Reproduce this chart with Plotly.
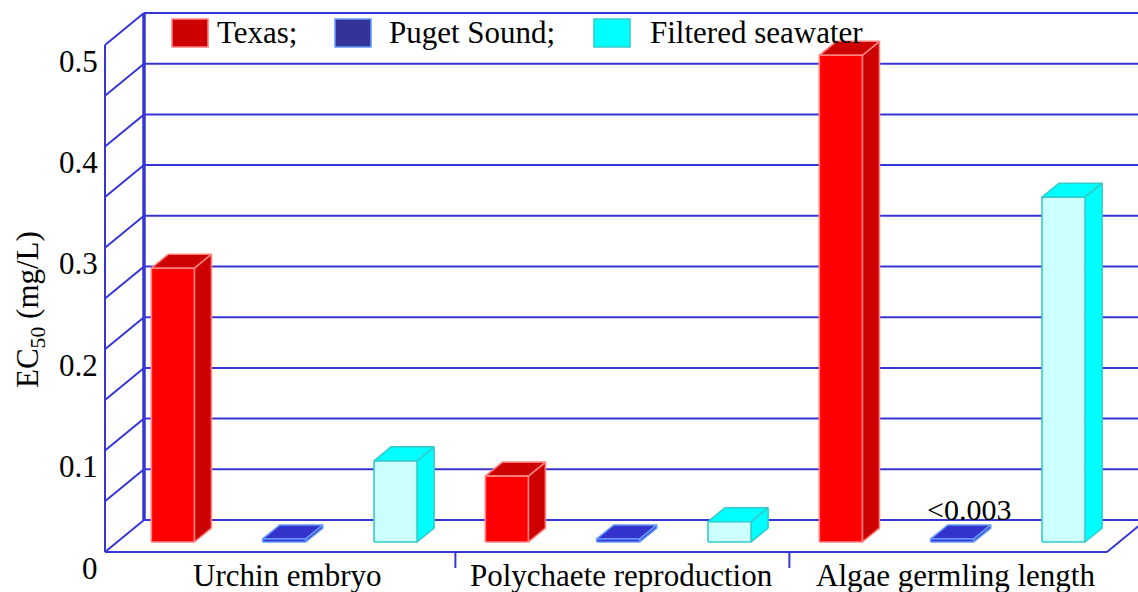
import plotly.graph_objects as go

# ---- data ----
categories = ["Urchin embryo", "Polychaete reproduction", "Algae germling length"]
series_names = ["Texas;", "Puget Sound;", "Filtered seawater"]
texas = [0.27, 0.065, 0.48]
puget_sound = [0.003, 0.003, 0.003]
filtered_seawater = [0.08, 0.02, 0.34]
y_tick_values = [0, 0.1, 0.2, 0.3, 0.4, 0.5]
y_tick_labels = ["0", "0.1", "0.2", "0.3", "0.4", "0.5"]
grid_step = 0.05
y_max = 0.5
value_note = "&lt;0.003"   # label on the Algae / Puget Sound bar

series_values = [texas, puget_sound, filtered_seawater]

# ---- pseudo-3D geometry ----
W, H = 1138, 592
PX_PER_CAT = 334.0       # pixels per category on the back wall
PX_PER_UNIT = 1014.0     # pixels per 1.0 mg/L
WALL_LEFT_PX, WALL_BASE_PX = 144.0, 520.0
DEPTH_DX, DEPTH_DY = -39.0, 32.0   # pixel offset from back wall to front edge
BAR_W = 43.0 / PX_PER_CAT
BAR_FRONT, BAR_BACK = 0.6875, 0.25  # depth of bar faces (0 = back, 1 = front)
N = len(categories)

GRID = "#3636D6"
FONT = "Liberation Serif, Times New Roman, serif"

STYLES = [
    dict(front="#FF0000", side="#CC0000", top="#CC0000", edge="#FF8080", key="#CC0000"),
    dict(front="#3333CC", side="#2B2BB0", top="#3333CC", edge="#6699FF", key="#333399"),
    dict(front="#CCFFFF", side="#00FFFF", top="#00FFFF", edge="#33CCCC", key="#00FFFF"),
]


def proj(x, v, d):
    """Map (category-x, value) on the back wall to depth d."""
    return x + DEPTH_DX * d / PX_PER_CAT, v - DEPTH_DY * d / PX_PER_UNIT


fig = go.Figure()


def add_lines(segments, width, color=GRID):
    xs, ys = [], []
    for (x0, y0), (x1, y1) in segments:
        xs += [x0, x1, None]
        ys += [y0, y1, None]
    fig.add_trace(go.Scatter(x=xs, y=ys, mode="lines", hoverinfo="skip",
                             line=dict(color=color, width=width), showlegend=False))


# back-wall gridlines and side-wall diagonals
n_grid = int(round(y_max / grid_step))
grid_vals = [k * grid_step for k in range(n_grid + 1)]
add_lines([((0, v), (N, v)) for v in grid_vals], 2)
add_lines([(proj(0, v, 1), (0, v)) for v in grid_vals], 2)
# back wall left edge, front vertical axis, floor edges
add_lines([((0, 0), (0, y_max))], 3.5)
add_lines([(proj(0, 0, 1), proj(0, y_max, 1)),
           (proj(0, 0, 1), proj(N, 0, 1)),
           (proj(N, 0, 1), (N, 0))], 2)
# category separators below the floor
tick_len = 16.0 / PX_PER_UNIT
seps = []
for i in range(1, N):
    tx, _ = proj(i, 0, 0.58)
    _, fy = proj(0, 0, 1)
    seps.append(((tx, fy), (tx, fy - tick_len)))
add_lines(seps, 2)


def poly(pts, fill, edge):
    xs = [p[0] for p in pts] + [pts[0][0]]
    ys = [p[1] for p in pts] + [pts[0][1]]
    fig.add_trace(go.Scatter(x=xs, y=ys, mode="lines", fill="toself", fillcolor=fill,
                             line=dict(color=edge, width=1.6), hoverinfo="skip",
                             showlegend=False))


# bars
for i in range(N):
    for j, vals in enumerate(series_values):
        v = vals[i]
        st = STYLES[j]
        xl = i + j / 3 + (1 / 3 - BAR_W) / 2
        xr = xl + BAR_W
        poly([proj(xr, 0, BAR_FRONT), proj(xr, 0, BAR_BACK),
              proj(xr, v, BAR_BACK), proj(xr, v, BAR_FRONT)], st["side"], st["edge"])
        poly([proj(xl, v, BAR_FRONT), proj(xr, v, BAR_FRONT),
              proj(xr, v, BAR_BACK), proj(xl, v, BAR_BACK)], st["top"], st["edge"])
        poly([proj(xl, 0, BAR_FRONT), proj(xr, 0, BAR_FRONT),
              proj(xr, v, BAR_FRONT), proj(xl, v, BAR_FRONT)], st["front"], st["edge"])

annotations = []
# value note above the Algae germling / Puget Sound bar
xl = 2 + 1 / 3 + (1 / 3 - BAR_W) / 2
nx, ny = proj(xl + BAR_W / 2, puget_sound[2], (BAR_FRONT + BAR_BACK) / 2)
annotations.append(dict(x=nx, y=ny, text=value_note, showarrow=False, xanchor="center",
                        yanchor="bottom", xshift=8, yshift=4,
                        font=dict(family=FONT, size=30, color="black")))

# y tick labels along the front axis
for v, lab in zip(y_tick_values, y_tick_labels):
    tx, ty = proj(0, v, 1)
    annotations.append(dict(x=tx, y=ty, text=lab, showarrow=False, xanchor="right",
                            yanchor="middle", xshift=-5, yshift=-16,
                            font=dict(family=FONT, size=31, color="black")))

# category labels
for i, cat in enumerate(categories):
    cx, cy = proj(i + 0.5, 0, 0.6)
    _, fy = proj(0, 0, 1)
    annotations.append(dict(x=cx, y=fy, text=cat, showarrow=False, xanchor="center",
                            yanchor="middle", yshift=-23,
                            font=dict(family=FONT, size=31, color="black")))

# y axis title
annotations.append(dict(x=30 / W, y=1 - 310 / H, xref="paper", yref="paper",
                        text="EC<sub>50</sub> (mg/L)", showarrow=False, textangle=-90,
                        xanchor="center", yanchor="middle",
                        font=dict(family=FONT, size=31, color="black")))

# legend
shapes = []
key_x = [172, 335, 594]
text_x = [215, 387, 648]
for j, name in enumerate(series_names):
    st = STYLES[j]
    shapes.append(dict(type="rect", xref="paper", yref="paper",
                       x0=key_x[j] / W, x1=(key_x[j] + 36) / W,
                       y0=1 - 47 / H, y1=1 - 19 / H,
                       fillcolor=st["key"], line=dict(color=st["edge"], width=1.6)))
    annotations.append(dict(x=text_x[j] / W, y=1 - 33 / H, xref="paper", yref="paper",
                            text=name, showarrow=False, xanchor="left", yanchor="middle",
                            font=dict(family=FONT, size=31, color="black")))

fig.update_layout(
    width=W, height=H,
    margin=dict(l=0, r=0, t=0, b=0),
    paper_bgcolor="white", plot_bgcolor="white",
    xaxis=dict(range=[-WALL_LEFT_PX / PX_PER_CAT, (W - WALL_LEFT_PX) / PX_PER_CAT],
               visible=False, fixedrange=True),
    yaxis=dict(range=[-(H - WALL_BASE_PX) / PX_PER_UNIT, WALL_BASE_PX / PX_PER_UNIT],
               visible=False, fixedrange=True),
    annotations=annotations,
    shapes=shapes,
    showlegend=False,
)

fig.write_html("out.html")
